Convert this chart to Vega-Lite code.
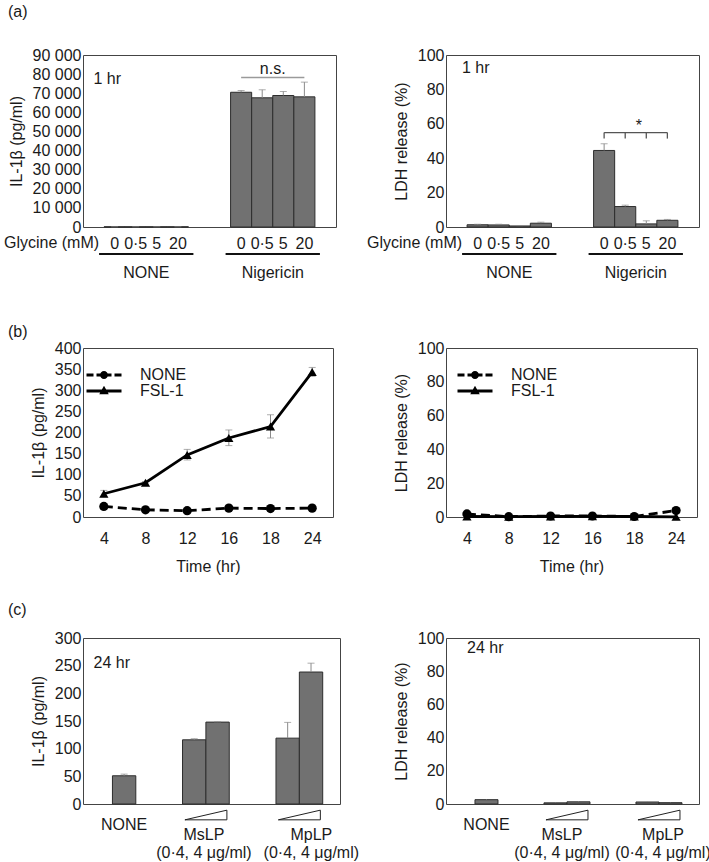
{
  "$schema": "https://vega.github.io/schema/vega-lite/v6.json",
  "padding": {"left": 3, "top": 3, "right": 10, "bottom": 0},
  "config": {
    "font": "Liberation Sans",
    "view": {"stroke": "#444", "strokeWidth": 1},
    "axis": {"labelFontSize": 16, "titleFontSize": 16, "titleFontWeight": "normal", "ticks": false, "domain": false, "grid": false, "labelColor": "#1a1a1a", "titleColor": "#1a1a1a", "labelFont": "Liberation Sans", "titleFont": "Liberation Sans", "labelPadding": 2, "labelOverlap": false},
    "axisY": {"titlePadding": 8, "labelOverlap": false},
    "title": {"fontSize": 16, "fontWeight": "normal", "font": "Liberation Sans", "color": "#1a1a1a"},
    "legend": {"labelFontSize": 16, "labelFont": "Liberation Sans", "labelColor": "#1a1a1a", "disable": false},
    "text": {"font": "Liberation Sans", "fontSize": 16, "color": "#1a1a1a"}
  },
  "resolve": {"scale": {"shape": "independent"}, "legend": {"shape": "independent"}},
  "columns": 2,
  "bounds": "flush",
  "spacing": {"row": 121, "column": 106},
  "concat": [
    {
      "width": 253, "height": 172,
      "title": {"text": "(a)", "anchor": "start", "frame": "group", "dx": -75, "offset": 27},
      "data": {"values": [
        {"slot": "NONE 0", "v": 120, "hi": 120},
        {"slot": "NONE 0·5", "v": 120, "hi": 120},
        {"slot": "NONE 5", "v": 120, "hi": 120},
        {"slot": "NONE 20", "v": 120, "hi": 120},
        {"slot": "Nigericin 0", "v": 70500, "hi": 71400},
        {"slot": "Nigericin 0·5", "v": 67600, "hi": 71800},
        {"slot": "Nigericin 5", "v": 68800, "hi": 70900},
        {"slot": "Nigericin 20", "v": 68100, "hi": 75800}
      ]},
      "layer": [
        {
          "mark": {"type": "bar", "fill": "#717171", "stroke": "#2d2d2d", "strokeWidth": 1},
          "encoding": {
            "x": {"field": "slot", "type": "nominal",
                  "scale": {"domain": ["NONE 0", "NONE 0·5", "NONE 5", "NONE 20", "g1", "g2", "Nigericin 0", "Nigericin 0·5", "Nigericin 5", "Nigericin 20"], "paddingInner": 0, "paddingOuter": 1.25},
                  "axis": {"title": "1 hr", "titleX": 10, "titleY": -149, "titleAlign": "left", "titleBaseline": "middle", "labelAngle": 0, "labelPadding": 16, "labelBaseline": "middle", "labelOverlap": false,
                           "labelExpr": "split(datum.value, ' ')[1] || ''"}},
            "y": {"field": "v", "type": "quantitative", "scale": {"domain": [0, 90000], "nice": false},
                  "axis": {"title": "IL-1β (pg/ml)", "tickCount": 30, "labelOverlap": false, "values": [0, 10000, 20000, 30000, 40000, 50000, 60000, 70000, 80000, 90000], "labelExpr": "replace(format(datum.value, ',d'), ',', ' ')"}}
          }
        },
        {
          "mark": {"type": "rule", "stroke": "#8a8a8a", "strokeWidth": 1},
          "encoding": {"x": {"field": "slot", "type": "nominal"}, "y": {"field": "v", "type": "quantitative"}, "y2": {"field": "hi"}}
        },
        {
          "mark": {"type": "tick", "color": "#8a8a8a", "size": 7, "thickness": 1, "orient": "horizontal"},
          "encoding": {"x": {"field": "slot", "type": "nominal"}, "y": {"field": "hi", "type": "quantitative"}}
        },
        {
          "data": {"values": [{"slot": "NONE 0·5", "label": "NONE"}, {"slot": "Nigericin 0·5", "label": "Nigericin"}]},
          "mark": {"type": "text", "dy": 46, "baseline": "middle"},
          "encoding": {"x": {"field": "slot", "type": "nominal", "bandPosition": 1}, "y": {"datum": 0}, "text": {"field": "label"}}
        },
        {
          "data": {"values": [{"slot": "NONE 0", "label": "Glycine (mM)"}]},
          "mark": {"type": "text", "dy": 16, "dx": -5, "align": "right", "baseline": "middle"},
          "encoding": {"x": {"field": "slot", "type": "nominal", "bandPosition": 0}, "y": {"datum": 0}, "text": {"field": "label"}}
        },
        {
          "data": {"values": [{"s1": "NONE 0", "s2": "NONE 20"}, {"s1": "Nigericin 0", "s2": "Nigericin 20"}]},
          "mark": {"type": "rule", "strokeWidth": 2, "color": "#111", "yOffset": 27, "xOffset": -5, "x2Offset": 5},
          "encoding": {"x": {"field": "s1", "type": "nominal", "bandPosition": 0}, "x2": {"field": "s2", "bandPosition": 1}, "y": {"datum": 0}}
        },
        {
          "data": {"values": [{"s1": "Nigericin 0", "s2": "Nigericin 20", "v": 78200}]},
          "mark": {"type": "rule", "color": "#9a9a9a", "strokeWidth": 1.5},
          "encoding": {"x": {"field": "s1", "type": "nominal", "bandPosition": 0.5}, "x2": {"field": "s2", "bandPosition": 0.5}, "y": {"field": "v", "type": "quantitative"}}
        },
        {
          "data": {"values": [{"slot": "Nigericin 0·5", "v": 82800, "label": "n.s."}]},
          "mark": {"type": "text", "baseline": "middle"},
          "encoding": {"x": {"field": "slot", "type": "nominal", "bandPosition": 1}, "y": {"field": "v", "type": "quantitative"}, "text": {"field": "label"}}
        }
      ]
    },
    {
      "width": 253, "height": 172,
      "title": {"text": "1 hr", "anchor": "start", "frame": "group", "offset": -29, "dx": 16},
      "data": {"values": [
        {"slot": "NONE 0", "v": 1.3, "hi": 1.6},
        {"slot": "NONE 0·5", "v": 1.2, "hi": 1.6},
        {"slot": "NONE 5", "v": 0.6, "hi": 0.8},
        {"slot": "NONE 20", "v": 2.2, "hi": 2.8},
        {"slot": "Nigericin 0", "v": 44.5, "hi": 48.4},
        {"slot": "Nigericin 0·5", "v": 11.9, "hi": 12.7},
        {"slot": "Nigericin 5", "v": 1.8, "hi": 3.6},
        {"slot": "Nigericin 20", "v": 3.9, "hi": 4.4}
      ]},
      "layer": [
        {
          "mark": {"type": "bar", "fill": "#717171", "stroke": "#2d2d2d", "strokeWidth": 1},
          "encoding": {
            "x": {"field": "slot", "type": "nominal",
                  "scale": {"domain": ["NONE 0", "NONE 0·5", "NONE 5", "NONE 20", "g1", "g2", "Nigericin 0", "Nigericin 0·5", "Nigericin 5", "Nigericin 20"], "paddingInner": 0, "paddingOuter": 1.25},
                  "axis": {"title": null, "labelAngle": 0, "labelPadding": 16, "labelBaseline": "middle", "labelOverlap": false, "labelExpr": "split(datum.value, ' ')[1] || ''"}},
            "y": {"field": "v", "type": "quantitative", "scale": {"domain": [0, 100], "nice": false},
                  "axis": {"title": "LDH release (%)", "tickCount": 30, "labelOverlap": false, "values": [0, 20, 40, 60, 80, 100]}}
          }
        },
        {
          "mark": {"type": "rule", "stroke": "#8a8a8a", "strokeWidth": 1},
          "encoding": {"x": {"field": "slot", "type": "nominal"}, "y": {"field": "v", "type": "quantitative"}, "y2": {"field": "hi"}}
        },
        {
          "mark": {"type": "tick", "color": "#8a8a8a", "size": 7, "thickness": 1, "orient": "horizontal"},
          "encoding": {"x": {"field": "slot", "type": "nominal"}, "y": {"field": "hi", "type": "quantitative"}}
        },
        {
          "data": {"values": [{"slot": "NONE 0·5", "label": "NONE"}, {"slot": "Nigericin 0·5", "label": "Nigericin"}]},
          "mark": {"type": "text", "dy": 46, "baseline": "middle"},
          "encoding": {"x": {"field": "slot", "type": "nominal", "bandPosition": 1}, "y": {"datum": 0}, "text": {"field": "label"}}
        },
        {
          "data": {"values": [{"slot": "NONE 0", "label": "Glycine (mM)"}]},
          "mark": {"type": "text", "dy": 16, "dx": -5, "align": "right", "baseline": "middle"},
          "encoding": {"x": {"field": "slot", "type": "nominal", "bandPosition": 0}, "y": {"datum": 0}, "text": {"field": "label"}}
        },
        {
          "data": {"values": [{"s1": "NONE 0", "s2": "NONE 20"}, {"s1": "Nigericin 0", "s2": "Nigericin 20"}]},
          "mark": {"type": "rule", "strokeWidth": 2, "color": "#111", "yOffset": 27, "xOffset": -5, "x2Offset": 5},
          "encoding": {"x": {"field": "s1", "type": "nominal", "bandPosition": 0}, "x2": {"field": "s2", "bandPosition": 1}, "y": {"datum": 0}}
        },
        {
          "data": {"values": [{"s1": "Nigericin 0", "s2": "Nigericin 20", "v": 54.9}]},
          "mark": {"type": "rule", "color": "#555", "strokeWidth": 1.3},
          "encoding": {"x": {"field": "s1", "type": "nominal", "bandPosition": 0.5}, "x2": {"field": "s2", "bandPosition": 0.5}, "y": {"field": "v", "type": "quantitative"}}
        },
        {
          "data": {"values": [
            {"slot": "Nigericin 0", "top": 54.9, "bot": 51.4},
            {"slot": "Nigericin 0·5", "top": 54.9, "bot": 51.4},
            {"slot": "Nigericin 5", "top": 54.9, "bot": 51.4},
            {"slot": "Nigericin 20", "top": 54.9, "bot": 51.4}
          ]},
          "mark": {"type": "rule", "color": "#555", "strokeWidth": 1.3},
          "encoding": {"x": {"field": "slot", "type": "nominal"}, "y": {"field": "top", "type": "quantitative"}, "y2": {"field": "bot"}}
        },
        {
          "data": {"values": [{"slot": "Nigericin 0·5", "v": 58.5, "label": "*"}]},
          "mark": {"type": "text", "baseline": "middle", "dx": 3},
          "encoding": {"x": {"field": "slot", "type": "nominal", "bandPosition": 1}, "y": {"field": "v", "type": "quantitative"}, "text": {"field": "label"}}
        }
      ]
    },
    {
      "width": 250, "height": 169,
      "title": {"text": "(b)", "anchor": "start", "frame": "group", "dx": -75, "offset": 0},
      "data": {"values": [
        {"series": "NONE", "time": 4, "v": 25, "lo": 23, "hi": 27},
        {"series": "NONE", "time": 8, "v": 17, "lo": 16, "hi": 18},
        {"series": "NONE", "time": 12, "v": 15, "lo": 14, "hi": 16},
        {"series": "NONE", "time": 16, "v": 21, "lo": 19, "hi": 23},
        {"series": "NONE", "time": 18, "v": 20, "lo": 18, "hi": 22},
        {"series": "NONE", "time": 24, "v": 21, "lo": 19, "hi": 23},
        {"series": "FSL-1", "time": 4, "v": 55, "lo": 48, "hi": 63},
        {"series": "FSL-1", "time": 8, "v": 81, "lo": 78, "hi": 84},
        {"series": "FSL-1", "time": 12, "v": 147, "lo": 135, "hi": 160},
        {"series": "FSL-1", "time": 16, "v": 187, "lo": 169, "hi": 206},
        {"series": "FSL-1", "time": 18, "v": 214, "lo": 187, "hi": 242},
        {"series": "FSL-1", "time": 24, "v": 343, "lo": 333, "hi": 354}
      ]},
      "layer": [
        {
          "mark": {"type": "rule", "stroke": "#8a8a8a", "strokeWidth": 1},
          "encoding": {
            "x": {"field": "time", "type": "ordinal", "scale": {"type": "point", "padding": 0.5},
                  "axis": {"title": "Time (hr)", "labelAngle": 0, "labelPadding": 13, "titlePadding": 12}},
            "y": {"field": "lo", "type": "quantitative", "scale": {"domain": [0, 400], "nice": false},
                  "axis": {"title": "IL-1β (pg/ml)", "tickCount": 30, "labelOverlap": false, "values": [0, 50, 100, 150, 200, 250, 300, 350, 400]}},
            "y2": {"field": "hi"}
          }
        },
        {
          "mark": {"type": "tick", "color": "#8a8a8a", "size": 7, "thickness": 1, "orient": "horizontal"},
          "encoding": {"x": {"field": "time", "type": "ordinal"}, "y": {"field": "hi", "type": "quantitative"}}
        },
        {
          "mark": {"type": "tick", "color": "#8a8a8a", "size": 7, "thickness": 1, "orient": "horizontal"},
          "encoding": {"x": {"field": "time", "type": "ordinal"}, "y": {"field": "lo", "type": "quantitative"}}
        },
        {
          "transform": [{"filter": "datum.series === 'NONE'"}],
          "mark": {"type": "line", "color": "#000", "strokeWidth": 2.8, "strokeDash": [9, 5]},
          "encoding": {"x": {"field": "time", "type": "ordinal"}, "y": {"field": "v", "type": "quantitative"}}
        },
        {
          "transform": [{"filter": "datum.series === 'FSL-1'"}],
          "mark": {"type": "line", "color": "#000", "strokeWidth": 2.8},
          "encoding": {"x": {"field": "time", "type": "ordinal"}, "y": {"field": "v", "type": "quantitative"}}
        },
        {
          "transform": [{"filter": "datum.series === 'NONE'"}],
          "mark": {"type": "point", "shape": "circle", "filled": true, "color": "#000", "opacity": 1, "size": 85},
          "encoding": {"x": {"field": "time", "type": "ordinal"}, "y": {"field": "v", "type": "quantitative"}}
        },
        {
          "transform": [{"filter": "datum.series === 'FSL-1'"}],
          "mark": {"type": "point", "shape": "triangle-up", "filled": true, "color": "#000", "opacity": 1, "size": 85},
          "encoding": {"x": {"field": "time", "type": "ordinal"}, "y": {"field": "v", "type": "quantitative"}}
        },
        {
          "transform": [{"filter": "false"}],
          "mark": {"type": "point", "filled": true, "color": "#000", "opacity": 1, "size": 100},
          "encoding": {
            "x": {"field": "time", "type": "ordinal"},
            "y": {"field": "v", "type": "quantitative"},
            "shape": {"field": "series", "type": "nominal",
              "scale": {"domain": ["NONE", "FSL-1"], "range": ["M-3.5,-0.28H-2.1V0.28H-3.5Z M-1.5,-0.28H-0.5V0.28H-1.5Z M0.5,-0.28H1.5V0.28H0.5Z M2.1,-0.28H3.5V0.28H2.1Z M-0.8,0A0.8,0.8 0 1,1 0.8,0A0.8,0.8 0 1,1 -0.8,0Z", "M-3.5,-0.28H3.5V0.28H-3.5Z M0,-1.05L0.95,0.65H-0.95Z"]},
              "legend": {"disable": false, "orient": "none", "legendX": 0, "legendY": 19, "title": null, "symbolSize": 100, "symbolOffset": 13, "labelOffset": 28, "rowPadding": 0, "symbolStrokeWidth": 0, "symbolFillColor": "#000", "symbolOpacity": 1}}
          }
        }
      ]
    },
    {
      "width": 251, "height": 169,
      "data": {"values": [
        {"series": "NONE", "time": 4, "v": 1.8},
        {"series": "NONE", "time": 8, "v": 0.2},
        {"series": "NONE", "time": 12, "v": 0.6},
        {"series": "NONE", "time": 16, "v": 0.6},
        {"series": "NONE", "time": 18, "v": 0.3},
        {"series": "NONE", "time": 24, "v": 3.8},
        {"series": "FSL-1", "time": 4, "v": 0.3},
        {"series": "FSL-1", "time": 8, "v": 0.2},
        {"series": "FSL-1", "time": 12, "v": 0.3},
        {"series": "FSL-1", "time": 16, "v": 0.4},
        {"series": "FSL-1", "time": 18, "v": 0.3},
        {"series": "FSL-1", "time": 24, "v": 0.1}
      ]},
      "layer": [
        {
          "transform": [{"filter": "datum.series === 'NONE'"}],
          "mark": {"type": "line", "color": "#000", "strokeWidth": 2.8, "strokeDash": [9, 5]},
          "encoding": {
            "x": {"field": "time", "type": "ordinal", "scale": {"type": "point", "padding": 0.5},
                  "axis": {"title": "Time (hr)", "labelAngle": 0, "labelPadding": 13, "titlePadding": 12}},
            "y": {"field": "v", "type": "quantitative", "scale": {"domain": [0, 100], "nice": false},
                  "axis": {"title": "LDH release (%)", "tickCount": 30, "labelOverlap": false, "values": [0, 20, 40, 60, 80, 100]}}
          }
        },
        {
          "transform": [{"filter": "datum.series === 'FSL-1'"}],
          "mark": {"type": "line", "color": "#000", "strokeWidth": 2.8},
          "encoding": {"x": {"field": "time", "type": "ordinal"}, "y": {"field": "v", "type": "quantitative"}}
        },
        {
          "transform": [{"filter": "datum.series === 'NONE'"}],
          "mark": {"type": "point", "shape": "circle", "filled": true, "color": "#000", "opacity": 1, "size": 85},
          "encoding": {"x": {"field": "time", "type": "ordinal"}, "y": {"field": "v", "type": "quantitative"}}
        },
        {
          "transform": [{"filter": "datum.series === 'FSL-1'"}],
          "mark": {"type": "point", "shape": "triangle-up", "filled": true, "color": "#000", "opacity": 1, "size": 85},
          "encoding": {"x": {"field": "time", "type": "ordinal"}, "y": {"field": "v", "type": "quantitative"}}
        },
        {
          "transform": [{"filter": "false"}],
          "mark": {"type": "point", "filled": true, "color": "#000", "opacity": 1, "size": 100},
          "encoding": {
            "x": {"field": "time", "type": "ordinal"},
            "y": {"field": "v", "type": "quantitative"},
            "shape": {"field": "series", "type": "nominal",
              "scale": {"domain": ["NONE", "FSL-1"], "range": ["M-3.5,-0.28H-2.1V0.28H-3.5Z M-1.5,-0.28H-0.5V0.28H-1.5Z M0.5,-0.28H1.5V0.28H0.5Z M2.1,-0.28H3.5V0.28H2.1Z M-0.8,0A0.8,0.8 0 1,1 0.8,0A0.8,0.8 0 1,1 -0.8,0Z", "M-3.5,-0.28H3.5V0.28H-3.5Z M0,-1.05L0.95,0.65H-0.95Z"]},
              "legend": {"disable": false, "orient": "none", "legendX": 8, "legendY": 19, "title": null, "symbolSize": 100, "symbolOffset": 13, "labelOffset": 28, "rowPadding": 0, "symbolStrokeWidth": 0, "symbolFillColor": "#000", "symbolOpacity": 1}}
          }
        }
      ]
    },
    {
      "width": 257, "height": 166,
      "title": {"text": "(c)", "anchor": "start", "frame": "group", "dx": -75, "offset": 12},
      "data": {"values": [
        {"slot": "NONE", "v": 51, "hi": 54},
        {"slot": "MsLP 0·4", "v": 116, "hi": 118},
        {"slot": "MsLP 4", "v": 148, "hi": 148.5},
        {"slot": "MpLP 0·4", "v": 119, "hi": 147.5},
        {"slot": "MpLP 4", "v": 238.5, "hi": 254.5}
      ]},
      "layer": [
        {
          "mark": {"type": "bar", "fill": "#717171", "stroke": "#2d2d2d", "strokeWidth": 1},
          "encoding": {
            "x": {"field": "slot", "type": "nominal",
                  "scale": {"domain": ["NONE", "g1", "g2", "MsLP 0·4", "MsLP 4", "g3", "g4", "MpLP 0·4", "MpLP 4"], "paddingInner": 0, "paddingOuter": 1.62, "align": 0.63},
                  "axis": {"labels": false, "title": "24 hr", "titleX": 10, "titleY": -142, "titleAlign": "left", "titleBaseline": "middle"}},
            "y": {"field": "v", "type": "quantitative", "scale": {"domain": [0, 300], "nice": false},
                  "axis": {"title": "IL-1β (pg/ml)", "tickCount": 30, "labelOverlap": false, "values": [0, 50, 100, 150, 200, 250, 300]}}
          }
        },
        {
          "mark": {"type": "rule", "stroke": "#8a8a8a", "strokeWidth": 1},
          "encoding": {"x": {"field": "slot", "type": "nominal"}, "y": {"field": "v", "type": "quantitative"}, "y2": {"field": "hi"}}
        },
        {
          "mark": {"type": "tick", "color": "#8a8a8a", "size": 7, "thickness": 1, "orient": "horizontal"},
          "encoding": {"x": {"field": "slot", "type": "nominal"}, "y": {"field": "hi", "type": "quantitative"}}
        },
        {
          "data": {"values": [{"slot": "NONE", "label": "NONE"}]},
          "mark": {"type": "text", "dy": 21, "baseline": "middle"},
          "encoding": {"x": {"field": "slot", "type": "nominal"}, "y": {"datum": 0}, "text": {"field": "label"}}
        },
        {
          "data": {"values": [{"slot": "MsLP 0·4", "label": "MsLP\n(0·4, 4 μg/ml)"}]},
          "mark": {"type": "text", "dy": 23, "dx": -2, "baseline": "top", "lineBreak": "\n", "lineHeight": 18},
          "encoding": {"x": {"field": "slot", "type": "nominal", "bandPosition": 1}, "y": {"datum": 0}, "text": {"field": "label"}}
        },
        {
          "data": {"values": [{"slot": "MpLP 0·4", "label": "MpLP\n(0·4, 4 μg/ml)"}]},
          "mark": {"type": "text", "dy": 23, "dx": 12, "baseline": "top", "lineBreak": "\n", "lineHeight": 18},
          "encoding": {"x": {"field": "slot", "type": "nominal", "bandPosition": 1}, "y": {"datum": 0}, "text": {"field": "label"}}
        },
        {
          "data": {"values": [{"slot": "MsLP 0·4"}, {"slot": "MpLP 0·4"}]},
          "mark": {"type": "point", "shape": "M-1,0.23L1,-0.23L1,0.23Z", "size": 1764, "filled": false, "stroke": "#222", "strokeWidth": 1, "opacity": 1, "yOffset": 11},
          "encoding": {"x": {"field": "slot", "type": "nominal", "bandPosition": 1}, "y": {"datum": 0}}
        }
      ]
    },
    {
      "width": 253, "height": 166,
      "title": {"text": "24 hr", "anchor": "start", "frame": "group", "offset": -26, "dx": 21},
      "data": {"values": [
        {"slot": "NONE", "v": 2.6, "hi": 2.9},
        {"slot": "MsLP 0·4", "v": 0.7, "hi": 0.9},
        {"slot": "MsLP 4", "v": 1.3, "hi": 1.6},
        {"slot": "MpLP 0·4", "v": 1.2, "hi": 1.4},
        {"slot": "MpLP 4", "v": 0.8, "hi": 1.0}
      ]},
      "layer": [
        {
          "mark": {"type": "bar", "fill": "#717171", "stroke": "#2d2d2d", "strokeWidth": 1},
          "encoding": {
            "x": {"field": "slot", "type": "nominal",
                  "scale": {"domain": ["NONE", "g1", "g2", "MsLP 0·4", "MsLP 4", "g3", "g4", "MpLP 0·4", "MpLP 4"], "paddingInner": 0, "paddingOuter": 1.62, "align": 0.63},
                  "axis": null},
            "y": {"field": "v", "type": "quantitative", "scale": {"domain": [0, 100], "nice": false},
                  "axis": {"title": "LDH release (%)", "tickCount": 30, "labelOverlap": false, "values": [0, 20, 40, 60, 80, 100]}}
          }
        },
        {
          "mark": {"type": "rule", "stroke": "#8a8a8a", "strokeWidth": 1},
          "encoding": {"x": {"field": "slot", "type": "nominal"}, "y": {"field": "v", "type": "quantitative"}, "y2": {"field": "hi"}}
        },
        {
          "data": {"values": [{"slot": "NONE", "label": "NONE"}]},
          "mark": {"type": "text", "dy": 21, "baseline": "middle"},
          "encoding": {"x": {"field": "slot", "type": "nominal"}, "y": {"datum": 0}, "text": {"field": "label"}}
        },
        {
          "data": {"values": [{"slot": "MsLP 0·4", "label": "MsLP\n(0·4, 4 μg/ml)"}]},
          "mark": {"type": "text", "dy": 23, "dx": -5, "baseline": "top", "lineBreak": "\n", "lineHeight": 18},
          "encoding": {"x": {"field": "slot", "type": "nominal", "bandPosition": 1}, "y": {"datum": 0}, "text": {"field": "label"}}
        },
        {
          "data": {"values": [{"slot": "MpLP 0·4", "label": "MpLP\n(0·4, 4 μg/ml)"}]},
          "mark": {"type": "text", "dy": 23, "dx": 4, "baseline": "top", "lineBreak": "\n", "lineHeight": 18},
          "encoding": {"x": {"field": "slot", "type": "nominal", "bandPosition": 1}, "y": {"datum": 0}, "text": {"field": "label"}}
        },
        {
          "data": {"values": [{"slot": "MsLP 0·4"}, {"slot": "MpLP 0·4"}]},
          "mark": {"type": "point", "shape": "M-1,0.23L1,-0.23L1,0.23Z", "size": 1764, "filled": false, "stroke": "#222", "strokeWidth": 1, "opacity": 1, "yOffset": 11},
          "encoding": {"x": {"field": "slot", "type": "nominal", "bandPosition": 1}, "y": {"datum": 0}}
        }
      ]
    }
  ]
}
